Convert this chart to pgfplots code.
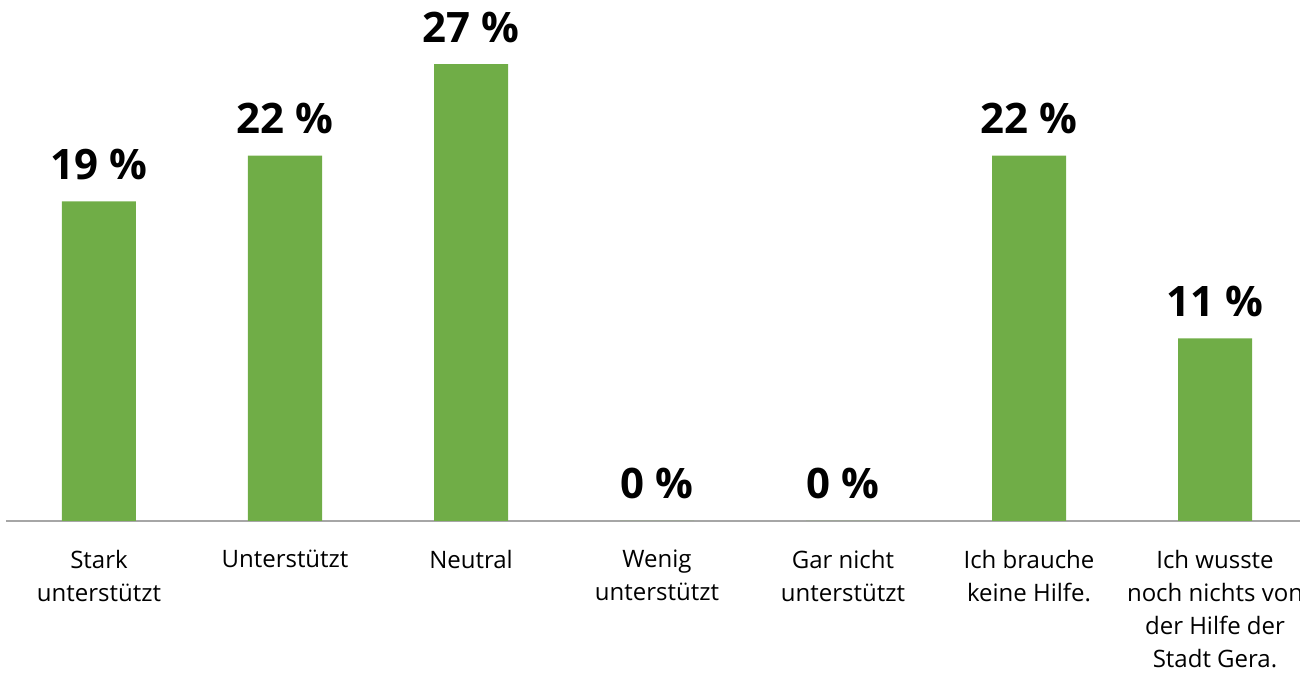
\documentclass[border=0pt]{standalone}
\usepackage{pgfplots}
\pgfplotsset{compat=1.18}
\usepackage{fontspec}
\setmainfont{Open Sans}
\definecolor{bargreen}{HTML}{70AD47}
\definecolor{axgray}{HTML}{A6A6A6}
\begin{document}
\begin{tikzpicture}
\begin{axis}[
  at={(0,0)}, anchor=south west,
  scale only axis,
  width=651pt, height=253.5pt,
  xmin=-0.5, xmax=6.5, ymin=0, ymax=30,
  axis x line=bottom, axis y line=none,
  axis line style={axgray, line width=0.8pt, -},
  xtick={0,1,2,3,4,5,6},
  xticklabels={{Stark\\unterstützt},{Unterstützt},{Neutral},{Wenig\\unterstützt},{Gar nicht\\unterstützt},{Ich brauche\\keine Hilfe.},{Ich wusste\\noch nichts von\\der Hilfe der\\Stadt Gera.}},
  xticklabel style={align=center, font=\fontsize{12}{16.5}\selectfont, anchor=north, yshift=-11pt},
  major tick length=0pt,
  ybar, bar width=37pt,
  /pgf/number format/assume math mode=true,
  nodes near coords={\pgfmathprintnumber[fixed,precision=0]{\pgfplotspointmeta} \%},
  nodes near coords style={font=\fontsize{21}{25}\selectfont\bfseries, anchor=base, yshift=11pt, black},
  clip=false,
]
% shares of 37 responses: 7, 8, 10, 0, 0, 8, 4
\addplot[fill=bargreen, draw=none] coordinates {(0,18.92) (1,21.62) (2,27.03) (3,0) (4,0) (5,21.62) (6,10.81)};
\end{axis}
\pgfresetboundingbox
\useasboundingbox (-3pt,-79pt) rectangle (647pt,260.5pt);
\end{tikzpicture}
\end{document}
